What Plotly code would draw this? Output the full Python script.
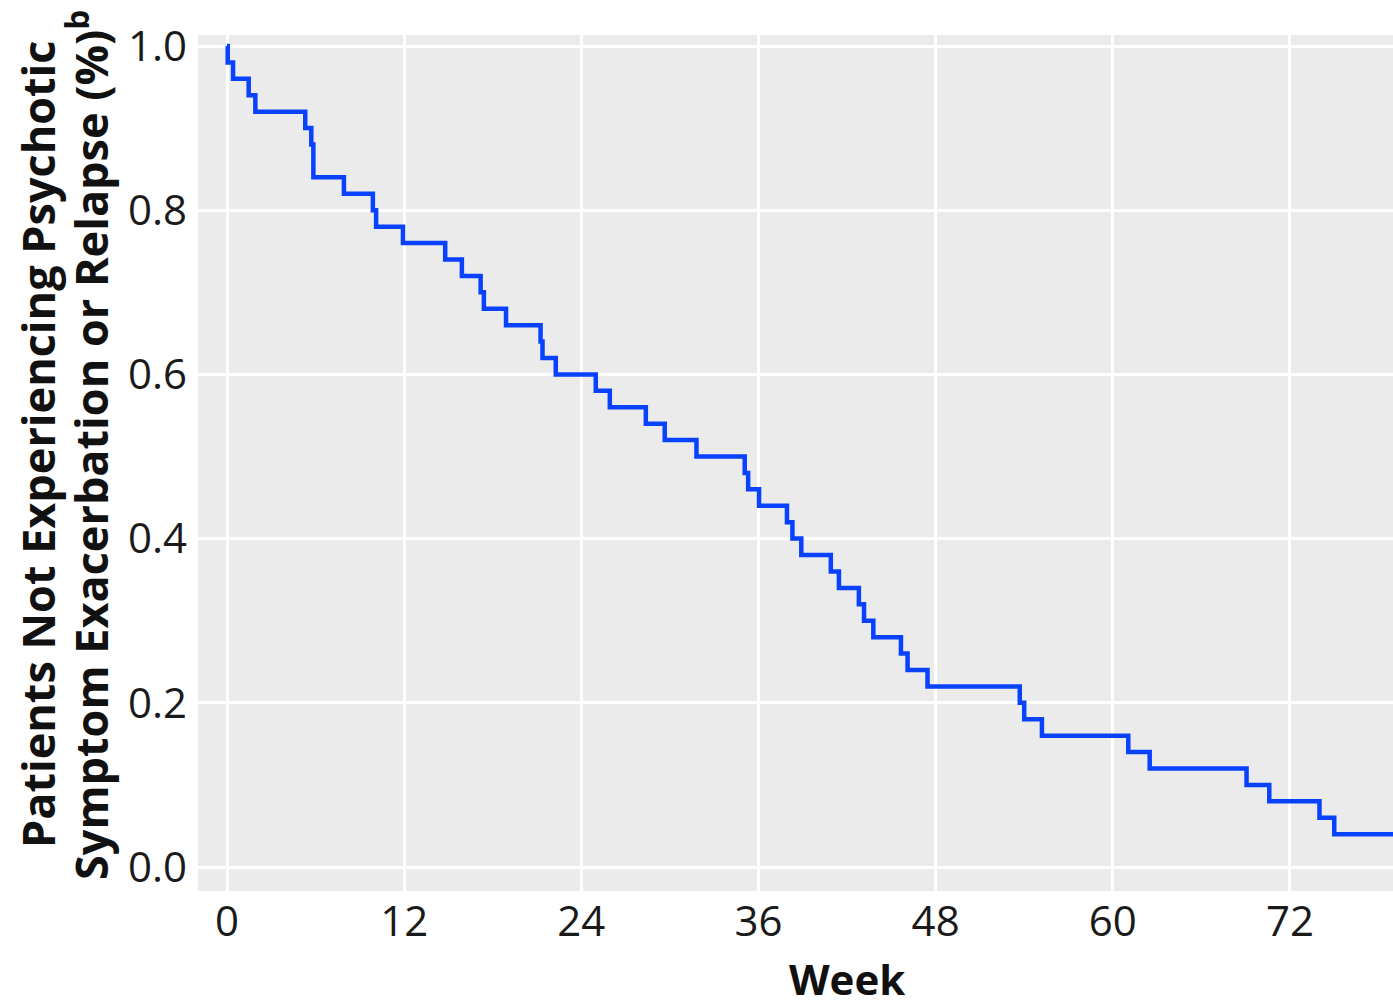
import plotly.graph_objects as go

weeks = [0, 0.05, 0.41, 1.47, 1.92, 5.30, 5.71, 5.85, 7.92, 9.88,
         10.10, 11.92, 14.78, 15.91, 17.18, 17.40, 18.90, 21.24, 21.37, 22.27,
         24.98, 25.93, 28.37, 29.65, 31.80, 35.07, 35.30, 36.04, 37.93, 38.30,
         38.90, 40.90, 41.45, 42.80, 43.15, 43.78, 45.65, 46.10, 47.45, 53.70,
         54.00, 55.20, 61.05, 62.50, 69.06, 70.60, 74.00, 75.00, 80.0]
survival = [1.00, 0.98, 0.96, 0.94, 0.92, 0.90, 0.88, 0.84, 0.82, 0.80,
            0.78, 0.76, 0.74, 0.72, 0.70, 0.68, 0.66, 0.64, 0.62, 0.60,
            0.58, 0.56, 0.54, 0.52, 0.50, 0.48, 0.46, 0.44, 0.42, 0.40,
            0.38, 0.36, 0.34, 0.32, 0.30, 0.28, 0.26, 0.24, 0.22, 0.20,
            0.18, 0.16, 0.14, 0.12, 0.10, 0.08, 0.06, 0.04, 0.04]

x_ticks = [0, 12, 24, 36, 48, 60, 72]
x_tick_labels = ["0", "12", "24", "36", "48", "60", "72"]
y_ticks = [0.0, 0.2, 0.4, 0.6, 0.8, 1.0]
y_tick_labels = ["0.0", "0.2", "0.4", "0.6", "0.8", "1.0"]

x_title = "Week"
y_title_1 = "Patients Not Experiencing Psychotic"
y_title_2 = "Symptom Exacerbation or Relapse (%)<sup>b</sup>"

W, H = 1393, 1000
L, R, T, B = 198, 0, 35, 109

fig = go.Figure()
fig.add_trace(go.Scatter(
    x=weeks, y=survival, mode="lines", line_shape="hv",
    line=dict(color="#0842FF", width=4.5), showlegend=False, hoverinfo="x+y"))

tick_font = dict(family="Open Sans", size=42, color="#1a1a1a")
title_font = dict(family="Open Sans", size=45, color="#111111")

fig.update_layout(
    width=W, height=H,
    margin=dict(l=L, r=R, t=T, b=B, pad=0),
    paper_bgcolor="white", plot_bgcolor="#EBEBEB",
    xaxis=dict(range=[-1.964, 78.98], tickvals=x_ticks, ticktext=x_tick_labels,
               showgrid=True, gridcolor="white", gridwidth=3, zeroline=False,
               showline=False, ticks="", tickfont=tick_font, ticklabelstandoff=2),
    yaxis=dict(range=[-0.0292, 1.0134], tickvals=y_ticks, ticktext=y_tick_labels,
               showgrid=True, gridcolor="white", gridwidth=3, zeroline=False,
               showline=False, ticks="", tickfont=tick_font, ticklabelstandoff=10),
)

pw = W - L - R
ph = H - T - B
def px_x(px):
    return (px - L) / pw
def px_y(py):
    return (H - B - py) / ph

fig.add_annotation(text=f"<b>{y_title_1}</b>", textangle=-90, xref="paper", yref="paper",
                   x=px_x(37), y=px_y(444), xanchor="center", yanchor="middle",
                   showarrow=False, font=title_font)
fig.add_annotation(text=f"<b>{y_title_2}</b>", textangle=-90, xref="paper", yref="paper",
                   x=px_x(88), y=px_y(445), xanchor="center", yanchor="middle",
                   showarrow=False, font=title_font)
fig.add_annotation(text=f"<b>{x_title}</b>", xref="paper", yref="paper",
                   x=px_x(847), y=px_y(978), xanchor="center", yanchor="middle",
                   showarrow=False, font=dict(family="Open Sans", size=42, color="#111111"))

fig.write_html("out.html", config={"displayModeBar": False},
               post_script="document.body.style.margin='0';document.body.style.overflow='hidden';")
